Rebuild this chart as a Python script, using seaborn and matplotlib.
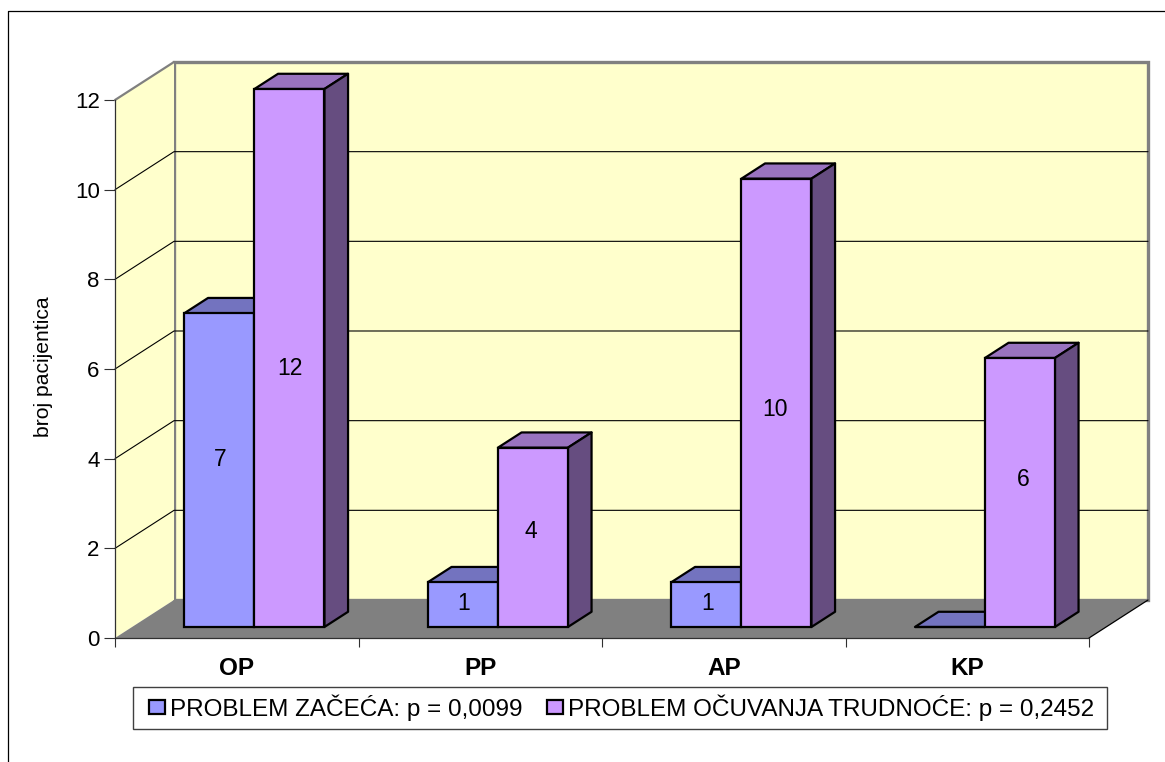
import pandas as pd
import seaborn as sns
import matplotlib.pyplot as plt
from matplotlib.lines import Line2D
from matplotlib.patches import Rectangle

categories = ['OP', 'PP', 'AP', 'KP']
zacece = [7, 1, 1, 0]
ocuvanje = [12, 4, 10, 6]
series_names = ['PROBLEM ZAČEĆA: p = 0,0099', 'PROBLEM OČUVANJA TRUDNOĆE: p = 0,2452']
y_ticks = [0, 2, 4, 6, 8, 10, 12]

colors = {'front': ['#9999FF', '#CC99FF'],
          'top': ['#7373BF', '#9973BF'],
          'side': ['#4D4D80', '#664D80']}

df = pd.DataFrame({
    'kategorija': categories * 2,
    'broj': zacece + ocuvanje,
    'serija': [series_names[0]] * 4 + [series_names[1]] * 4,
})

sns.set_theme(style='white')
plt.rcParams['font.family'] = ['Liberation Sans', 'DejaVu Sans']

fig = plt.figure(figsize=(11.65, 7.62), dpi=100)
ax = fig.add_axes([115 / 1165, (762 - 638) / 762, 974 / 1165, 538 / 762])
ax.patch.set_alpha(0)

sns.barplot(data=df, x='kategorija', y='broj', hue='serija', order=categories,
            hue_order=series_names, palette=colors['front'], width=0.575, gap=0,
            edgecolor='black', linewidth=1.6, saturation=1, ax=ax, zorder=4)
handles, labels = ax.get_legend_handles_labels()
ax.get_legend().remove()

ax.set_xlim(-0.5, 3.5)
ax.set_ylim(0, 12)

# depth of the fake 3d box, in data units
wall_dx = 59 / 243.5
wall_dy = 38 / 44.83
x0, x1 = -0.5, 3.5
grey = '#808080'

# walls and floor
ax.fill([x0 + wall_dx, x1 + wall_dx, x1 + wall_dx, x0 + wall_dx],
        [wall_dy, wall_dy, 12 + wall_dy, 12 + wall_dy],
        facecolor='#FFFFCC', edgecolor=grey, linewidth=2.4, clip_on=False, zorder=0)
ax.fill([x0, x0 + wall_dx, x0 + wall_dx, x0], [0, wall_dy, 12 + wall_dy, 12],
        facecolor='#FFFFCC', edgecolor='none', clip_on=False, zorder=0)
ax.fill([x0, x0 + wall_dx, x1 + wall_dx, x1], [0, wall_dy, wall_dy, 0],
        facecolor=grey, edgecolor='none', clip_on=False, zorder=1)
ax.plot([x1, x1 + wall_dx], [0, wall_dy], color='black', lw=0.9, clip_on=False, zorder=1)
ax.plot([x0, x0 + wall_dx], [12, 12 + wall_dy], color=grey, lw=1.6, clip_on=False, zorder=1)

# gridlines on both walls
for v in y_ticks[1:-1]:
    ax.plot([x0, x0 + wall_dx, x1 + wall_dx], [v, v + wall_dy, v + wall_dy],
            color='black', lw=0.8, clip_on=False, zorder=1)

# bar depth and shift from the axis plane
shift_x = 0.3 * wall_dx
shift_y = 0.29 * wall_dy
bar_dx = 0.4 * wall_dx
bar_dy = 0.4 * wall_dy

# the value labels do not sit at the bar centres in the original
label_y = [[3.99, 0.76, 0.76, 0], [6.02, 2.38, 5.09, 3.53]]
label_nudge = [[0.004, 0.004, 0.004, 0], [0.004, -0.008, -0.004, 0.012]]

for i, cont in enumerate(ax.containers):
    for j, bar in enumerate(cont):
        bar.set_x(bar.get_x() + shift_x)
        bar.set_y(shift_y)
        bar.set_clip_on(False)
        x = bar.get_x()
        w = bar.get_width()
        h = bar.get_height()
        top = shift_y + h
        ax.fill([x, x + w, x + w + bar_dx, x + bar_dx], [top, top, top + bar_dy, top + bar_dy],
                facecolor=colors['top'][i], edgecolor='black', linewidth=1.6,
                joinstyle='round', clip_on=False, zorder=3)
        if h > 0:
            ax.fill([x + w, x + w + bar_dx, x + w + bar_dx, x + w],
                    [shift_y, shift_y + bar_dy, top + bar_dy, top],
                    facecolor=colors['side'][i], edgecolor='black', linewidth=1.6,
                    joinstyle='round', clip_on=False, zorder=3)
            ax.text(x + w / 2 + label_nudge[i][j], label_y[i][j], str(int(h)), ha='center',
                    va='center', fontsize=16.5, color='black', zorder=5)

# axes
sns.despine(ax=ax)
for side in ['left', 'bottom']:
    ax.spines[side].set_linewidth(0.9)
    ax.spines[side].set_color('#303030')
    ax.spines[side].set_zorder(2)
ax.set_yticks(y_ticks)
ax.set_xticks([x0, 0.5, 1.5, 2.5, x1])
ax.set_xticklabels([])
ax.set_xticks(range(len(categories)), categories, minor=True, fontweight='bold', fontsize=17.5)
ax.tick_params(axis='x', which='major', bottom=True, length=6.5, width=0.8, color='#303030')
ax.tick_params(axis='x', which='minor', bottom=False, length=0, pad=13.5, labelcolor='black')
ax.tick_params(axis='y', left=True, length=8, width=0.8, color='#303030', labelsize=16, pad=3,
               labelcolor='black')
ax.set_xlabel('')
ax.set_ylabel('broj pacijentica', fontsize=15.2, color='black')
ax.yaxis.set_label_coords(-62 / 974, 0.5 + 2 / 538)

# legend box is drawn by hand, legend borderpad can't give a wide flat box
ax.add_patch(Rectangle((133 / 1165, (762 - 729) / 762), 974 / 1165, 42 / 762,
                       transform=fig.transFigure, facecolor='white', edgecolor='#404040',
                       linewidth=1.0, clip_on=False, zorder=4.5))
leg = ax.legend(handles, labels, ncol=2, loc='center', frameon=False,
                bbox_to_anchor=((621.5 - 115) / 974, -(707.5 - 638) / 538), fontsize=17.5,
                labelcolor='black', handlelength=0.66, handleheight=0.55,
                handletextpad=0.2, columnspacing=1.0, borderpad=0, borderaxespad=0)
leg.set_zorder(6)

# outer chart frame, only top and left sides show
fig.add_artist(Line2D([8 / 1165, 8 / 1165, 1], [0, 751 / 762, 751 / 762], color='black', lw=0.9))

fig.savefig('out.png', dpi=100)
